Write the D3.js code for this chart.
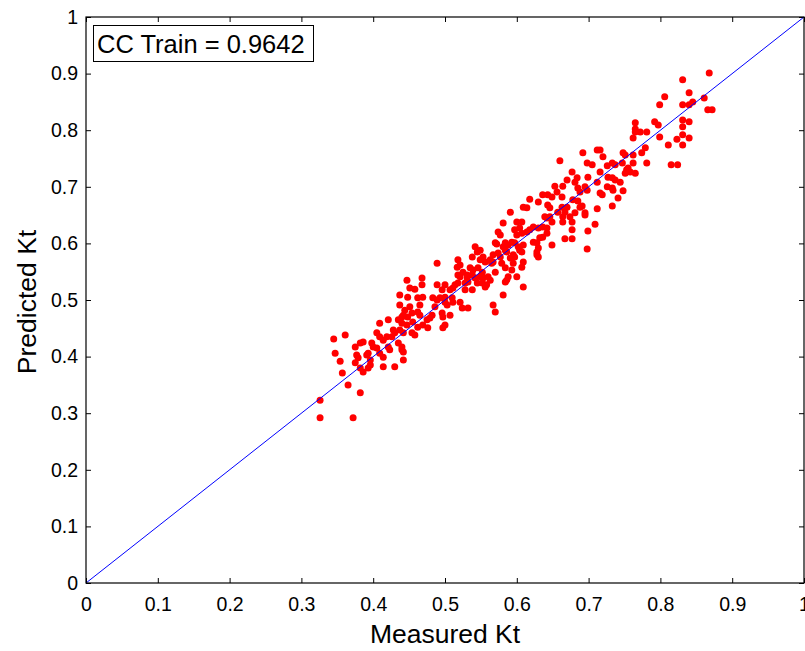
<!DOCTYPE html>
<html>
<head>
<meta charset="utf-8">
<script src="https://cdn.jsdelivr.net/npm/d3@7"></script>
<style>
  body { margin: 0; background: #fff; }
  svg { display: block; font-family: "Liberation Sans", Arial, sans-serif; }
</style>
</head>
<body>
<svg id="chart" width="805" height="651"></svg>
<script>
// measured Kt / predicted Kt pairs
const measured = [
  0.868,0.831,0.806,0.840,0.799,0.831,0.840,0.845,0.861,0.866,0.872,0.792,0.797,0.831,0.840,0.831,0.799,0.823,0.831,0.840,0.811,0.831,0.815,0.824,
  0.765,0.765,0.765,0.772,0.762,0.781,0.692,0.712,0.716,0.720,0.698,0.705,0.726,0.733,0.737,0.747,0.748,0.751,0.762,0.762,0.779,0.774,0.781,
  0.716,0.753,0.758,0.765,0.751,0.755,0.699,0.727,0.733,0.737,0.744,0.712,0.695,0.698,0.726,0.733,0.734,0.716,0.719,0.748,0.688,0.741,
  0.691,0.712,0.733,0.695,0.709,0.699,0.698,
  0.660,0.677,0.684,0.670,
  0.653,0.664,0.681,0.685,0.636,0.643,0.649,0.656,0.663,0.618,0.630,0.678,0.685,0.643,0.646,0.609,0.614,0.663,0.670,0.688,0.591,0.657,0.667,
  0.681,0.695,0.639,0.642,0.646,0.664,0.664,0.674,0.677,0.600,0.607,0.581,0.649,0.623,0.630,0.636,0.642,0.597,0.604,0.677,0.574,0.577,0.614,
  0.618,0.600,0.607,0.642,0.636,0.632,0.623,0.628,0.667,0.677,0.570,0.584,0.588,0.593,0.597,0.649,0.609,0.602,0.604,0.581,0.584,0.586,0.630,
  0.628,0.607,0.567,0.574,0.628,0.630,0.595,0.597,0.591,0.563,0.567,0.609,0.607,0.579,0.584,0.595,0.593,0.570,0.588,0.586,0.584,0.600,0.609,
  0.581,0.567,
  0.542,0.545,0.538,0.549,0.572,0.553,0.549,0.556,0.577,0.518,0.521,0.517,0.489,0.565,0.535,0.539,0.546,0.552,0.525,0.531,0.538,0.531,0.542,
  0.518,0.521,0.549,0.553,0.560,0.563,0.447,0.468,0.468,0.489,0.500,0.514,0.518,0.528,0.532,0.545,0.552,0.558,0.451,0.458,0.496,0.507,0.511,
  0.528,0.538,0.556,0.437,0.448,0.462,0.469,0.483,0.489,0.493,0.500,0.510,0.511,0.500,0.521,0.437,0.444,0.451,0.465,0.486,0.503,0.524,0.532,
  0.442,0.448,0.454,0.462,0.465,0.482,0.479,0.475,0.496,0.507,0.497,0.570,0.455,0.469,0.462,0.447,0.476,0.500,0.497,0.437,0.442,0.458,0.440,
  0.442,0.442,
  0.345,0.361,0.347,0.354,0.357,0.365,0.382,0.326,0.326,0.372,0.375,0.382,0.386,0.377,0.379,0.375,0.382,0.386,0.391,0.393,0.396,0.396,0.393,
  0.398,0.400,0.405,0.409,0.405,0.409,0.414,0.419,0.409,0.414,0.414,0.421,0.421,0.423,0.428,0.430,0.426,0.430,0.435,0.435,0.440,0.440,0.440,
  0.454
];
const predicted = [
  0.901,0.889,0.859,0.866,0.845,0.845,0.845,0.850,0.857,0.836,0.836,0.815,0.809,0.818,0.815,0.806,0.788,0.784,0.792,0.786,0.774,0.774,0.739,0.739,
  0.813,0.802,0.797,0.797,0.786,0.797,0.760,0.765,0.765,0.753,0.742,0.739,0.737,0.742,0.739,0.742,0.760,0.756,0.756,0.742,0.769,0.760,0.742,
  0.726,0.730,0.726,0.724,0.724,0.733,0.717,0.717,0.716,0.712,0.708,0.708,0.700,0.694,0.700,0.698,0.694,0.689,0.686,0.693,0.691,0.680,
  0.666,0.661,0.666,0.650,0.634,0.622,0.590,
  0.746,0.726,0.716,0.712,
  0.701,0.701,0.708,0.698,0.686,0.686,0.682,0.691,0.682,0.678,0.673,0.677,0.675,0.668,0.663,0.664,0.663,0.664,0.664,0.664,0.655,0.655,0.655,
  0.654,0.654,0.647,0.645,0.647,0.647,0.638,0.647,0.638,0.638,0.638,0.636,0.638,0.629,0.627,0.629,0.627,0.624,0.627,0.624,0.620,0.615,0.620,
  0.624,0.615,0.618,0.618,0.611,0.610,0.602,0.601,0.608,0.608,0.601,0.601,0.597,0.602,0.601,0.597,0.597,0.594,0.588,0.594,0.588,0.585,0.592,
  0.585,0.585,0.580,0.583,0.580,0.576,0.580,0.576,0.574,0.571,0.567,0.567,0.558,0.565,0.557,0.565,0.553,0.549,0.541,0.535,0.532,0.541,0.523,
  0.509,0.491,
  0.594,0.585,0.576,0.588,0.599,0.576,0.571,0.567,0.576,0.571,0.562,0.558,0.565,0.565,0.557,0.553,0.557,0.549,0.549,0.544,0.544,0.539,0.539,
  0.544,0.541,0.541,0.539,0.541,0.535,0.535,0.539,0.527,0.527,0.527,0.527,0.530,0.530,0.532,0.530,0.530,0.527,0.521,0.519,0.518,0.518,0.521,
  0.518,0.518,0.523,0.509,0.505,0.504,0.505,0.504,0.500,0.504,0.505,0.504,0.496,0.496,0.496,0.491,0.482,0.488,0.491,0.488,0.491,0.486,0.486,
  0.473,0.470,0.477,0.479,0.473,0.473,0.468,0.465,0.477,0.473,0.470,0.479,0.461,0.456,0.452,0.456,0.451,0.456,0.451,0.447,0.442,0.438,0.417,
  0.408,0.394,
  0.431,0.438,0.406,0.392,0.371,0.350,0.336,0.323,0.292,0.292,0.417,0.424,0.426,0.403,0.398,0.389,0.380,0.373,0.403,0.406,0.394,0.385,0.380,
  0.424,0.417,0.415,0.459,0.442,0.435,0.429,0.435,0.406,0.399,0.382,0.465,0.417,0.412,0.447,0.442,0.435,0.382,0.424,0.465,0.459,0.470,0.412,
  0.442
];
const ticks = [0, 0.1, 0.2, 0.3, 0.4, 0.5, 0.6, 0.7, 0.8, 0.9, 1];
const ccLabel = "CC Train = 0.9642";

const points = measured.map((m, i) => ({ m, p: predicted[i] }));

const svg = d3.select("#chart");
const plot = { left: 86, right: 804, top: 17, bottom: 583 };

const x = d3.scaleLinear().domain([0, 1]).range([plot.left, plot.right]);
const y = d3.scaleLinear().domain([0, 1]).range([plot.bottom, plot.top]);

// axes (MATLAB-style: ticks inside, box on)
const tickLen = 5;
const fmt = d => d3.format("~g")(d);
const tickFont = 19.5;

svg.append("g").attr("transform", `translate(0,${plot.bottom})`)
  .call(d3.axisBottom(x).tickValues(ticks).tickFormat(fmt).tickSizeInner(-tickLen).tickSizeOuter(0).tickPadding(14))
  .call(g => g.select(".domain").remove())
  .call(g => g.selectAll("text").attr("font-size", tickFont).attr("font-family", "Liberation Sans, Arial").attr("fill", "#000"));

svg.append("g").attr("transform", `translate(${plot.left},0)`)
  .call(d3.axisLeft(y).tickValues(ticks).tickFormat(fmt).tickSizeInner(-tickLen).tickSizeOuter(0).tickPadding(8))
  .call(g => g.select(".domain").remove())
  .call(g => g.selectAll("text").attr("font-size", tickFont).attr("font-family", "Liberation Sans, Arial").attr("fill", "#000"));

svg.append("g").attr("transform", `translate(0,${plot.top})`)
  .call(d3.axisTop(x).tickValues(ticks).tickFormat("").tickSizeInner(-tickLen).tickSizeOuter(0))
  .call(g => g.select(".domain").remove());

svg.append("g").attr("transform", `translate(${plot.right},0)`)
  .call(d3.axisRight(y).tickValues(ticks).tickFormat("").tickSizeInner(-tickLen).tickSizeOuter(0))
  .call(g => g.select(".domain").remove());

svg.selectAll(".tick line").attr("stroke", "#000");

// scatter
svg.append("g").selectAll("circle")
  .data(points).join("circle")
  .attr("cx", d => x(d.m))
  .attr("cy", d => y(d.p))
  .attr("r", 3.5)
  .attr("fill", "#ff0000");

// y = x reference line
svg.append("line")
  .attr("x1", x(0)).attr("y1", y(0))
  .attr("x2", x(1)).attr("y2", y(1))
  .attr("stroke", "#0000ff").attr("stroke-width", 1);

// box
svg.append("rect")
  .attr("x", plot.left).attr("y", plot.top)
  .attr("width", plot.right - plot.left).attr("height", plot.bottom - plot.top)
  .attr("fill", "none").attr("stroke", "#000").attr("stroke-width", 1.2);

// annotation box
svg.append("rect")
  .attr("x", 93.5).attr("y", 25.5).attr("width", 220).attr("height", 36)
  .attr("fill", "#fff").attr("stroke", "#000").attr("stroke-width", 1);
svg.append("text")
  .attr("x", 97).attr("y", 53)
  .attr("font-size", 25.5).attr("fill", "#000")
  .text(ccLabel);

// axis labels
svg.append("text")
  .attr("x", 445).attr("y", 643)
  .attr("text-anchor", "middle").attr("font-size", 26.5)
  .text("Measured Kt");
svg.append("text")
  .attr("transform", `translate(36,${(plot.top + plot.bottom) / 2 + 2}) rotate(-90)`)
  .attr("text-anchor", "middle").attr("font-size", 26.5)
  .text("Predicted Kt");
</script>
</body>
</html>
